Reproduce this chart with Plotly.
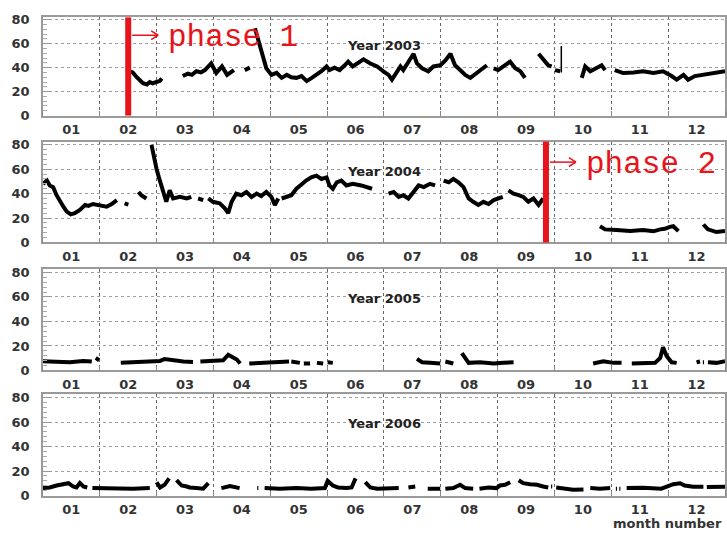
import plotly.graph_objects as go
from plotly.subplots import make_subplots

N = None
months = ["01", "02", "03", "04", "05", "06", "07", "08", "09", "10", "11", "12"]
month_pos = [0.5 + i for i in range(12)]
years = ["Year 2003", "Year 2004", "Year 2005", "Year 2006"]
y_ticks = [0, 20, 40, 60, 80]

# x = month number (fractional, 0 = start of January), None = gap in data
x_2003 = [1.53, 1.58, 1.65, 1.76, 1.83, 1.88, 1.93, 2.0, 2.06, 2.09, N,
          2.46, 2.55, 2.62, 2.7, 2.78, 2.85, 2.96, 3.05, 3.15, 3.24, 3.36, N,
          3.55, 3.64, N,
          3.73, 3.76, 3.81, 3.87, 3.93, 4.02, 4.11, 4.2, 4.29, 4.37, 4.46, 4.55, 4.64, 4.73, 4.81, 4.9, 4.99, 5.04,
          5.13, 5.22, 5.31, 5.37, 5.45, 5.55, 5.64, 5.76, 5.88, 5.99, 6.08, 6.14, 6.2, 6.29, 6.34, 6.43, 6.52, 6.58,
          6.67, 6.78, 6.87, 6.99, 7.08, 7.17, 7.25, 7.34, 7.43, 7.52, 7.63, 7.72, 7.81, N,
          7.93, 8.01, 8.1, 8.22, 8.31, 8.4, 8.48, N,
          8.72, 8.8, 8.89, 8.95, N,
          9.01, 9.1, N,
          9.48, 9.54, 9.63, 9.74, 9.83, 9.89, N,
          10.06, 10.21, 10.39, 10.56, 10.74, 10.91, 11.06, 11.15, 11.27, 11.35, 11.47, 11.62, 11.79, 12.0]
y_2003 = [37, 36, 32, 27, 26, 28, 27, 28, 29, 31, N,
          33, 35, 34, 37, 36, 38, 43.5, 35.5, 41, 34, 38, N,
          38, 40, N,
          73, 68, 60, 49, 39.5, 34, 35.7, 31.5, 34, 32, 31.5, 33, 28.8, 31.5, 34, 37, 41, 38,
          40, 38, 42, 45, 41, 44, 47, 43.5, 41, 37, 34, 30, 34, 41, 38, 45, 51.6, 43.5,
          39.5, 37, 41, 42, 46, 51.6, 42, 38, 34, 31.5, 35.5, 39.5, 42, N,
          39.5, 38, 41, 45, 39.5, 37, 31.5, N,
          51.6, 47.6, 42, 41, N,
          38, 37, N,
          31.5, 41, 37, 39.5, 42, 38, N,
          38, 35.5, 36, 37, 35.5, 37, 33, 30, 34, 30, 33, 34, 35, 37]
# thin isolated spike (single reading)
spike_x_2003 = [9.12, 9.12]
spike_y_2003 = [36, 58]

x_2004 = [0.0, 0.07, 0.12, 0.18, 0.24, 0.3, 0.36, 0.42, 0.49, 0.56, 0.65, 0.74, 0.8, 0.88, 1.0, 1.12, 1.21, 1.3, N,
          1.46, 1.48, N,
          1.68, 1.73, 1.82, N,
          1.91, 1.95, 2.0, 2.04, 2.09, 2.14, 2.17, 2.23, 2.29, 2.41, 2.53, 2.61, N,
          2.73, 2.82, N,
          2.91, 2.99, 3.11, 3.2, 3.26, 3.32, 3.4, 3.49, 3.58, 3.67, 3.76, 3.84, 3.93, 4.02, 4.08, 4.14, N,
          4.2, 4.28, 4.37, 4.46, 4.55, 4.63, 4.72, 4.81, 4.9, 4.99, 5.04, 5.1, 5.17, 5.25, 5.34, 5.45, 5.6, 5.7, 5.79, N,
          6.08, 6.17, 6.26, 6.34, 6.43, 6.52, 6.61, 6.7, 6.81, 6.9, N,
          7.05, 7.14, 7.22, 7.31, 7.4, 7.49, 7.57, 7.66, 7.75, 7.84, 7.93, 8.01, 8.09, N,
          8.19, 8.28, 8.37, 8.45, 8.54, 8.63, 8.72, 8.8, N,
          9.8, 9.89, 10.09, 10.33, 10.56, 10.74, 10.86, 10.94, 11.03, 11.09, 11.18, N,
          11.62, 11.7, 11.85, 12.0]
y_2004 = [48, 50.7, 46.7, 45.3, 38.7, 33.3, 29.3, 25.3, 23, 24, 26.7, 30.7, 29.9, 31.5, 30.7, 29.3, 31.5, 34.7, N,
          30, 33, N,
          41.3, 38.7, 36, N,
          80, 69, 60, 53.3, 45.3, 36, 33.3, 42.7, 36, 37.3, 36, 37.3, N,
          36, 34.7, N,
          36, 33.3, 32, 28, 24, 33.3, 40, 38.7, 41.3, 37.3, 40, 37.9, 41.3, 37.3, 30.7, 36, N,
          36, 37.3, 38.7, 44, 48, 50.7, 53.3, 54.7, 52, 53.3, 46.7, 44, 49.3, 50.7, 46.7, 48, 46.7, 45.3, 44, N,
          40, 41.3, 37.3, 38.7, 36, 41.3, 46.7, 45.3, 48, 46.7, N,
          50.7, 49.3, 52, 49.3, 45.3, 36, 33.3, 30.7, 33.3, 31.5, 34.7, 36, 37.3, N,
          42.7, 40, 38.7, 37.3, 33.3, 36, 30.7, 36, N,
          13.3, 10.7, 10.1, 9.3, 10.1, 9.1, 10.7, 11.2, 12.8, 13.3, 9.3, N,
          14.7, 10.7, 8.5, 9.3]

x_2005 = [0.0, 0.24, 0.47, 0.71, 0.86, N,
          0.93, 0.99, N,
          1.37, 1.59, 1.82, 2.06, 2.14, 2.29, 2.47, 2.64, N,
          2.77, 2.99, 3.17, 3.26, 3.34, 3.41, 3.47, N,
          3.63, 3.93, 4.17, 4.33, N,
          4.37, 4.52, N,
          4.59, 4.7, N,
          4.82, 4.93, N,
          5.01, 5.1, N,
          6.58, 6.67, 6.81, 6.99, N,
          7.08, 7.22, N,
          7.37, 7.43, 7.49, 7.69, 7.93, 8.1, 8.28, N,
          9.68, 9.86, 10.04, 10.18, N,
          10.36, 10.56, 10.77, 10.86, 10.91, 10.97, 11.06, 11.15, N,
          11.5, 11.56, N,
          11.61, 11.63, N,
          11.7, 11.85, 12.0]
y_2005 = [7.5, 7.3, 6.7, 7.8, 7.3, N,
          10.2, 8.3, N,
          6.2, 6.7, 7, 7.8, 9.4, 8.1, 7.3, 7, N,
          7.3, 7.8, 8.3, 12.8, 11, 8.9, 5.7, N,
          5.7, 6.2, 6.7, 7.3, N,
          7.3, 6.2, N,
          5.7, 5.7, N,
          6.2, 5.7, N,
          6.7, 6.2, N,
          9.4, 6.7, 6.2, 5.7, N,
          7.3, 5.7, N,
          14.2, 10.2, 6.2, 6.7, 5.7, 6.2, 6.7, N,
          5.7, 7.5, 6.2, 6.2, N,
          5.7, 6.2, 6.2, 10.2, 18.9, 12, 6.7, 6.2, N,
          6.7, 7.3, N,
          6.7, 6.7, N,
          6.7, 6.2, 7.5]

x_2006 = [0.0, 0.12, 0.24, 0.36, 0.45, 0.53, 0.59, 0.65, 0.71, 0.78, N,
          0.87, 1.12, 1.35, 1.59, 1.88, N,
          2.0, 2.06, 2.14, 2.22, N,
          2.35, 2.44, 2.53, 2.58, 2.7, 2.82, 2.91, N,
          3.14, 3.29, 3.46, N,
          3.77, 3.79, N,
          3.9, 4.17, 4.46, 4.72, 4.96, 5.01, 5.1, 5.19, 5.34, 5.43, 5.5, N,
          5.67, 5.76, 5.88, 6.05, 6.26, N,
          6.43, 6.55, N,
          6.77, 6.99, N,
          7.08, 7.22, 7.34, 7.43, 7.57, N,
          7.68, 7.84, 7.98, 8.04, 8.13, 8.22, N,
          8.37, 8.45, 8.57, 8.69, 8.8, 8.89, N,
          8.94, 8.96, N,
          9.03, 9.16, 9.33, 9.51, N,
          9.63, 9.8, 9.98, N,
          10.08, 10.1, N,
          10.14, 10.16, N,
          10.27, 10.56, 10.88, 10.97, 11.09, 11.21, 11.29, 11.44, 11.62, N,
          11.68, 11.85, 12.0]
y_2006 = [6.1, 6.6, 8.2, 9.5, 10.1, 7.4, 6.6, 10.3, 7.4, 6.6, N,
          6.1, 5.6, 5.8, 5.6, 6.1, N,
          10.9, 6.6, 8.8, 14, N,
          12.7, 8.2, 7.4, 6.6, 6.1, 5.6, 10.1, N,
          6.1, 7.7, 6.1, N,
          6.1, 6.1, N,
          6.1, 5.6, 6.1, 5.6, 6.1, 11.9, 8.2, 6.6, 6.1, 6.6, 14, N,
          10.9, 6.6, 5.6, 5.6, 6.1, N,
          6.6, 7.4, N,
          5.6, 5.6, N,
          5.6, 6.1, 8.8, 6.1, 5.6, N,
          5.6, 6.6, 6.1, 8.2, 8.8, 10.9, N,
          12.5, 10.1, 9.3, 8.8, 7.4, 6.6, N,
          7.4, 7.4, N,
          6.6, 5.6, 4.8, 5, N,
          6.1, 5.6, 6.1, N,
          5.6, 5.6, N,
          5.6, 5.6, N,
          6.1, 6.4, 5.6, 7.4, 9.3, 10.1, 8.2, 7.2, 7.2, N,
          6.9, 7.4, 7.2]

phase_month = [1.50, 8.85]           # month positions of the phase markers
phase_labels = ["phase 1", "phase 2"]
phase_rows = [1, 2]

W, H = 727, 539
def px(x):
    return x / W
def py(y):
    return 1 - y / H

fig = make_subplots(rows=4, cols=1)

xs = [x_2003, x_2004, x_2005, x_2006]
ys = [y_2003, y_2004, y_2005, y_2006]
domains = [(12.7, 113.3), (140.0, 243.3), (270.5, 374.5), (398.5, 502.7)]
yranges = [[0, 82], [0, 82.6], [0, 82.8], [0, 83]]

sans = "DejaVu Sans, Liberation Sans, sans-serif"
tickfont = dict(family=sans, size=13, color="#333333", weight="bold")

for i in range(4):
    r = i + 1
    fig.add_trace(go.Scatter(x=xs[i], y=ys[i], mode="lines", connectgaps=False,
                             line=dict(color="black", width=4), showlegend=False,
                             hoverinfo="skip"), row=r, col=1)
    if i == 0:
        fig.add_trace(go.Scatter(x=spike_x_2003, y=spike_y_2003, mode="lines",
                                 line=dict(color="black", width=1.5), showlegend=False,
                                 hoverinfo="skip"), row=r, col=1)
    fig.update_xaxes(row=r, col=1, range=[0, 12], domain=[px(43), px(726)],
                     tickmode="array", tickvals=month_pos, ticktext=months,
                     ticks="", showgrid=False, zeroline=False,
                     showline=True, mirror=True, linecolor="#9a9a9a", linewidth=1.5,
                     tickfont=tickfont, ticklabelstandoff=1,
                     minor=dict(tick0=0, dtick=1, showgrid=True, griddash="dot",
                                gridcolor="#666666", gridwidth=1,
                                ticks="inside", ticklen=5, tickcolor="#888888"))
    top, bot = domains[i]
    fig.update_yaxes(row=r, col=1, range=yranges[i], domain=[py(bot), py(top)],
                     tickmode="array", tickvals=y_ticks,
                     ticks="inside", ticklen=8, tickcolor="#999999",
                     showgrid=True, griddash="dot", gridcolor="#a0a0a0", gridwidth=1,
                     zeroline=False, showline=True, mirror=True,
                     linecolor="#9a9a9a", linewidth=1.5,
                     tickfont=tickfont, ticklabelstandoff=9,
                     minor=dict(dtick=4, tick0=0, ticks="inside", ticklen=4,
                                tickcolor="#aaaaaa", showgrid=False))
    xref = "x" if r == 1 else f"x{r}"
    yref = "y" if r == 1 else f"y{r}"
    fig.add_annotation(x=6.0, y=58.5, xref=xref, yref=yref, text=years[i],
                       showarrow=False, xanchor="center", yanchor="middle",
                       font=dict(family=sans, size=13, color="#222222", weight="bold"))

red = "#e8141b"
arrow_y = [31, 161]
for k in range(2):
    r = phase_rows[k]
    xref = "x" if r == 1 else f"x{r}"
    yref = "y domain" if r == 1 else f"y{r} domain"
    fig.add_shape(type="line", xref=xref, yref=yref, x0=phase_month[k], x1=phase_month[k],
                  y0=0, y1=1, line=dict(color=red, width=6))
    # arrow drawn next to the marker (paper pixel positions)
    xa = 43 + phase_month[k] * (726 - 43) / 12 + 4
    ya = arrow_y[k]
    fig.add_shape(type="line", xref="paper", yref="paper", x0=px(xa), x1=px(xa + 26),
                  y0=py(ya), y1=py(ya), line=dict(color=red, width=1.5))
    fig.add_shape(type="line", xref="paper", yref="paper", x0=px(xa + 26), x1=px(xa + 19),
                  y0=py(ya), y1=py(ya - 4.5), line=dict(color=red, width=1.5))
    fig.add_shape(type="line", xref="paper", yref="paper", x0=px(xa + 26), x1=px(xa + 19),
                  y0=py(ya), y1=py(ya + 4.5), line=dict(color=red, width=1.5))
    fig.add_annotation(x=px(xa + 34), y=py(ya + 2), xref="paper", yref="paper",
                       text=phase_labels[k], showarrow=False, xanchor="left", yanchor="middle",
                       font=dict(family="Courier New, Liberation Mono, monospace", size=31,
                                 color=red))

fig.add_annotation(x=px(725), y=py(531), xref="paper", yref="paper", text="month number",
                   showarrow=False, xanchor="right", yanchor="middle",
                   font=dict(family=sans, size=13, color="#333333", weight="bold"))

fig.update_layout(width=W, height=H, margin=dict(l=0, r=0, t=0, b=0),
                  paper_bgcolor="white", plot_bgcolor="white")

fig.write_html("out.html")
